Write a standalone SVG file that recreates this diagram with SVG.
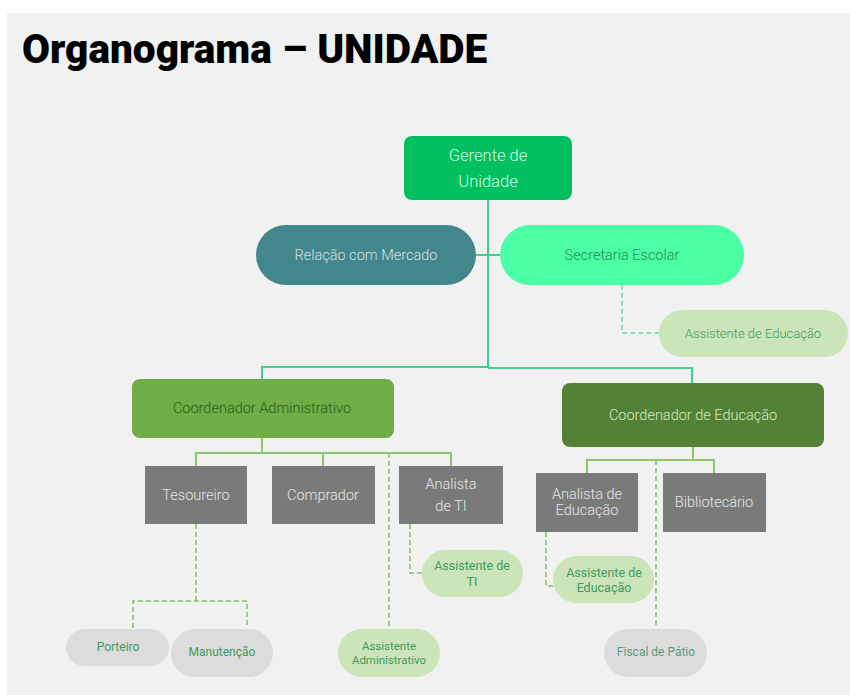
<svg xmlns="http://www.w3.org/2000/svg" width="850" height="695" viewBox="0 0 850 695">
<style>
  .t{font-family:Roboto,"Liberation Sans",sans-serif;text-anchor:middle;dominant-baseline:central;font-weight:300}
  .r{font-weight:400}
  .solid{fill:none;stroke-width:2}
  .top{stroke:#3ed08c}
  .sub{stroke:#8cc870}
  .dash{fill:none;stroke-width:1.5;stroke-dasharray:5 3}
  .dg{stroke:#7cc060}
  .dm{stroke:#5ee0a0}
  .gray{fill:#7a7a7a}
  .grayt{fill:#e6e6e6;font-size:14.5px}
  .lg{fill:#cce5b8}
  .lgt{fill:#3f9a5e;font-size:12.5px;font-weight:400}
  .pale{fill:#dcdcdc}
</style>
<rect x="0" y="0" width="850" height="695" fill="#ffffff"/>
<rect x="7" y="13" width="843" height="682" fill="#f1f1f1"/>
<text x="22" y="63" font-family="Roboto,'Liberation Sans',sans-serif" font-weight="900" font-size="40.6" fill="#000">Organograma – UNIDADE</text>

<g id="connectors">
  <path class="solid top" d="M488 200 V368 M262 380 V367 H488 M488 368 H692 V383 M476 255 H500"/>
  <path class="solid sub" d="M262 438 V453 M196 466 V453 H451 V466 M323 453 V466 M693 447 V460 M587 473 V460 H714 V473"/>
  <path class="dash dm" d="M622 285 V333 H659"/>
  <path class="dash dg" d="M389 453 V628"/>
  <path class="dash dg" d="M196 524 V601 M133 628 V601 H247 V628"/>
  <path class="dash dg" d="M410 524 V573 H422"/>
  <path class="dash dg" d="M546 532 V586 H553"/>
  <path class="dash dg" d="M656 460 V628"/>
  <path class="dash dg" d="M319 523 H327"/>
</g>

<g id="gerente">
  <rect x="404" y="136" width="168" height="64" rx="8" fill="#00c060"/>
  <text class="t" x="488" y="155" font-size="16.5" fill="#d8f8e4">Gerente de</text>
  <text class="t" x="488" y="181" font-size="16.5" fill="#d8f8e4">Unidade</text>
</g>
<g id="relacao">
  <rect x="256" y="225" width="220" height="60" rx="30" fill="#43868e"/>
  <text class="t" x="366" y="255" font-size="14.5" fill="#d2e2e2">Relação com Mercado</text>
</g>
<g id="secretaria">
  <rect x="500" y="225" width="244" height="60" rx="30" fill="#4affa4"/>
  <text class="t" x="622" y="255" font-size="14.5" fill="#2a8a55">Secretaria Escolar</text>
</g>
<g id="assist-edu-sec">
  <rect x="659" y="310" width="189" height="47" rx="23.5" class="lg"/>
  <text class="t" x="753" y="333" font-size="13" fill="#3f9a5e">Assistente de Educação</text>
</g>
<g id="coord-adm">
  <rect x="132" y="379" width="262" height="59" rx="8" fill="#6fad46"/>
  <text class="t" x="262" y="408" font-size="14.5" fill="#2d5a20">Coordenador Administrativo</text>
</g>
<g id="coord-edu">
  <rect x="562" y="383" width="262" height="64" rx="8" fill="#538135"/>
  <text class="t" x="693" y="415" font-size="14.5" fill="#d4ecc4">Coordenador de Educação</text>
</g>
<g id="tesoureiro">
  <rect x="145" y="466" width="102" height="58" class="gray"/>
  <text class="t grayt" x="196" y="495">Tesoureiro</text>
</g>
<g id="comprador">
  <rect x="272" y="466" width="103" height="58" class="gray"/>
  <text class="t grayt" x="323" y="495">Comprador</text>
</g>
<g id="analista-ti">
  <rect x="399" y="466" width="104" height="58" class="gray"/>
  <text class="t grayt" x="451" y="484">Analista</text>
  <text class="t grayt" x="451" y="506">de TI</text>
</g>
<g id="analista-edu">
  <rect x="536" y="473" width="102" height="59" class="gray"/>
  <text class="t grayt" x="587" y="494">Analista de</text>
  <text class="t grayt" x="587" y="510">Educação</text>
</g>
<g id="bibliotecario">
  <rect x="663" y="473" width="103" height="59" class="gray"/>
  <text class="t grayt" x="714" y="502">Bibliotecário</text>
</g>
<g id="assist-ti">
  <rect x="422" y="550" width="101" height="47" rx="23.5" class="lg"/>
  <text class="t lgt" x="472" y="565">Assistente de</text>
  <text class="t lgt" x="472" y="581">TI</text>
</g>
<g id="assist-edu">
  <rect x="553" y="556" width="101" height="47" rx="23.5" class="lg"/>
  <text class="t lgt" x="604" y="572">Assistente de</text>
  <text class="t lgt" x="604" y="587">Educação</text>
</g>
<g id="porteiro">
  <rect x="66" y="629" width="103" height="37" rx="18.5" class="pale"/>
  <text class="t r" x="118" y="647" font-size="12" fill="#3f9a5e">Porteiro</text>
</g>
<g id="manutencao">
  <rect x="171" y="629" width="102" height="48" rx="24" class="pale"/>
  <text class="t r" x="222" y="652" font-size="12" fill="#3f9a5e">Manutenção</text>
</g>
<g id="assist-adm">
  <rect x="338" y="629" width="102" height="48" rx="24" class="lg"/>
  <text class="t r" x="389" y="646" font-size="11.5" fill="#3f9a5e">Assistente</text>
  <text class="t r" x="389" y="660" font-size="11.5" fill="#3f9a5e">Administrativo</text>
</g>
<g id="fiscal">
  <rect x="604" y="629" width="103" height="48" rx="24" class="pale"/>
  <text class="t r" x="656" y="652" font-size="12" fill="#5a9a80">Fiscal de Pátio</text>
</g>
</svg>
